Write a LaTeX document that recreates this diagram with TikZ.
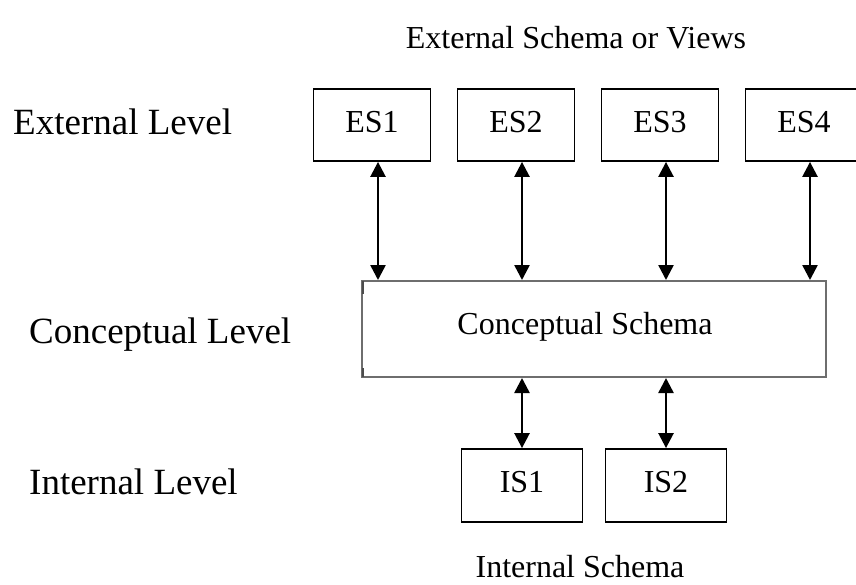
\documentclass[tikz,border=0pt]{standalone}
\usepackage{fontspec}
\setmainfont{Liberation Serif}
\usetikzlibrary{arrows.meta}
\begin{document}
\begin{tikzpicture}[x=1pt,y=-1pt,
  schemabox/.style={draw=black, line width=1.8pt, minimum width=117pt, minimum height=72pt,
    inner sep=0pt, text height=21pt, text depth=7pt, font=\fontsize{32}{38}\selectfont},
  intbox/.style={schemabox, minimum width=121pt, minimum height=73pt},
  concbox/.style={draw=black!57, line width=2pt, minimum width=464pt, minimum height=96pt, inner sep=0pt},
  levellabel/.style={anchor=base west, inner sep=0pt, font=\fontsize{37}{44}\selectfont},
  caption/.style={anchor=base, inner sep=0pt, font=\fontsize{32}{38}\selectfont},
  tip/.style={Triangle[length=15pt,width=15pt]},
  link/.style={line width=2.5pt, {Triangle[length=15pt,width=15pt]}-{Triangle[length=15pt,width=15pt]}}]
\useasboundingbox (0,0) rectangle (856,584);
\clip (0,0) rectangle (856,584);

% level names on the left
\node[levellabel] (extlevel)  at (13,134) {External Level};
\node[levellabel] (conclevel) at (29,343) {Conceptual Level};
\node[levellabel] (intlevel)  at (29,494) {Internal Level};

% captions
\node[caption] (views)  at (576,48)  {External Schema or Views};
\node[caption] (intcap) at (580,577) {Internal Schema};

% external schemas
\node[schemabox] (es1) at (372,125) {ES1};
\node[schemabox] (es2) at (516,125) {ES2};
\node[schemabox] (es3) at (660,125) {ES3};
\node[schemabox] (es4) at (804,125) {ES4};

% conceptual schema
\node[concbox] (cs) at (594,329) {};
\node[caption] (cstext) at (585,334) {Conceptual Schema};
\draw[black!40!gray, line width=1.5pt] ([xshift=1.8pt,yshift=-1pt]cs.north west) -- ++(0,13)
  ([xshift=1.8pt,yshift=1pt]cs.south west) -- ++(0,-9);

% internal schemas
\node[intbox] (is1) at (522,485.5) {IS1};
\node[intbox] (is2) at (666,485.5) {IS2};

% mappings between the levels
\foreach \e in {es1,es2,es3,es4}
  \draw[link] ([xshift=6pt]\e.south) coordinate (top-\e) -- (top-\e |- cs.north);
\foreach \i in {is1,is2}
  \draw[link] (\i.north |- cs.south) -- (\i.north);
\end{tikzpicture}
\end{document}
